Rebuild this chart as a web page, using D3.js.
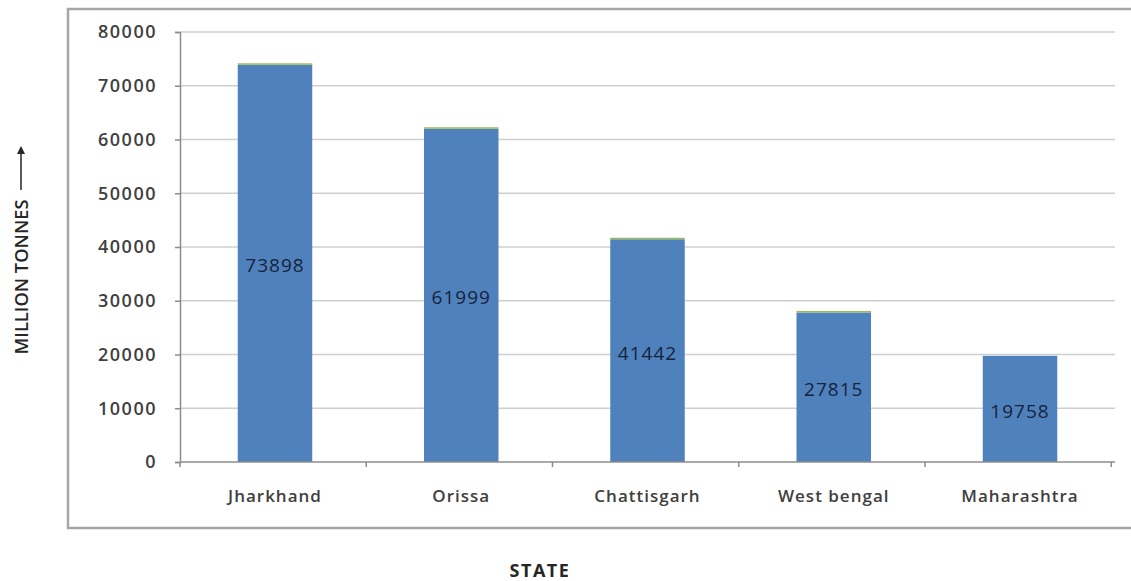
<!DOCTYPE html>
<html>
<head>
<meta charset="utf-8">
<script src="https://cdn.jsdelivr.net/npm/d3@7"></script>
<style>
  body { margin: 0; background: #fff; }
  svg text { font-family: "Open Sans", "Liberation Sans", sans-serif; }
</style>
</head>
<body>
<div id="chart"></div>
<script>
  // Chart data
  const states = ['Jharkhand', 'Orissa', 'Chattisgarh', 'West bengal', 'Maharashtra'];
  const reserves = [73898, 61999, 41442, 27815, 19758];
  const topSeries = [280, 280, 280, 280, 0];
  const yTicks = [0, 10000, 20000, 30000, 40000, 50000, 60000, 70000, 80000];

  const W = 1131, H = 581;
  const plot = { left: 180, right: 1115, top: 32, bottom: 462 };

  const svg = d3.select('#chart')
    .append('svg')
    .attr('width', W)
    .attr('height', H);

  // Outer frame
  svg.append('rect')
    .attr('x', 68).attr('y', 9)
    .attr('width', 1080).attr('height', 519)
    .attr('fill', 'none')
    .attr('stroke', '#a6a6a6')
    .attr('stroke-width', 2.5);

  const x = d3.scaleBand()
    .domain(states)
    .range([plot.left, plot.right])
    .paddingInner(0.6)
    .paddingOuter(0.31);

  const y = d3.scaleLinear()
    .domain([0, 80000])
    .range([plot.bottom, plot.top]);

  // Gridlines
  svg.append('g')
    .selectAll('line')
    .data(yTicks.filter(d => d > 0))
    .enter()
    .append('line')
    .attr('x1', plot.left).attr('x2', plot.right)
    .attr('y1', d => y(d)).attr('y2', d => y(d))
    .attr('stroke', '#cfcfcf')
    .attr('stroke-width', 1.5);

  // Bars
  svg.append('g')
    .selectAll('rect')
    .data(states)
    .enter()
    .append('rect')
    .attr('x', d => x(d))
    .attr('width', x.bandwidth())
    .attr('y', (d, i) => y(reserves[i]))
    .attr('height', (d, i) => y(0) - y(reserves[i]))
    .attr('fill', '#4f81bd');

  // Thin top series
  svg.append('g')
    .selectAll('rect')
    .data(states)
    .enter()
    .append('rect')
    .attr('x', d => x(d))
    .attr('width', x.bandwidth())
    .attr('y', (d, i) => y(reserves[i] + topSeries[i]))
    .attr('height', (d, i) => y(reserves[i]) - y(reserves[i] + topSeries[i]))
    .attr('fill', '#9bbb59');

  // Value labels
  svg.append('g')
    .selectAll('text')
    .data(states)
    .enter()
    .append('text')
    .attr('x', d => x(d) + x.bandwidth() / 2)
    .attr('y', (d, i) => y(reserves[i] / 2) + 9)
    .attr('text-anchor', 'middle')
    .style('font-size', '19px')
    .style('font-weight', '500')
    .style('letter-spacing', '1px')
    .style('fill', '#17233a')
    .text((d, i) => reserves[i]);

  // Y axis
  const yAxis = svg.append('g')
    .attr('transform', `translate(${plot.left},0)`)
    .call(d3.axisLeft(y).tickValues(yTicks).tickSize(5).tickPadding(18).tickFormat(d3.format('d')));
  yAxis.select('.domain').attr('stroke', '#8c8c8c').attr('stroke-width', 1.5);
  yAxis.selectAll('.tick line').attr('stroke', '#8c8c8c').attr('stroke-width', 1.5);
  yAxis.selectAll('text')
    .style('font-size', '18px')
    .style('font-weight', '600')
    .style('letter-spacing', '1.5px')
    .style('fill', '#404040');

  // X axis
  svg.append('line')
    .attr('x1', plot.left).attr('x2', plot.right)
    .attr('y1', plot.bottom).attr('y2', plot.bottom)
    .attr('stroke', '#8c8c8c').attr('stroke-width', 1.5);

  const step = x.step();
  svg.append('g')
    .selectAll('line')
    .data(d3.range(states.length + 1))
    .enter()
    .append('line')
    .attr('x1', i => plot.left + i * step).attr('x2', i => plot.left + i * step)
    .attr('y1', plot.bottom).attr('y2', plot.bottom + 5)
    .attr('stroke', '#8c8c8c').attr('stroke-width', 1.5);

  svg.append('g')
    .selectAll('text')
    .data(states)
    .enter()
    .append('text')
    .attr('x', d => x(d) + x.bandwidth() / 2)
    .attr('y', 502)
    .attr('text-anchor', 'middle')
    .style('font-size', '17px')
    .style('font-weight', '600')
    .style('letter-spacing', '1px')
    .style('fill', '#404040')
    .text(d => d);

  // Y axis title with arrow
  svg.append('text')
    .attr('transform', 'translate(28,277) rotate(-90)')
    .attr('text-anchor', 'middle')
    .attr('textLength', 155)
    .attr('lengthAdjust', 'spacingAndGlyphs')
    .style('font-size', '18px')
    .style('font-weight', '600')
    .style('fill', '#262626')
    .text('MILLION TONNES');

  svg.append('line')
    .attr('x1', 21).attr('x2', 21)
    .attr('y1', 190).attr('y2', 152)
    .attr('stroke', '#262626')
    .attr('stroke-width', 1.5);
  svg.append('path')
    .attr('d', 'M17,154 L21,146 L25,154 Z')
    .attr('fill', '#262626');

  svg.append('text')
    .attr('x', 540)
    .attr('y', 577)
    .attr('text-anchor', 'middle')
    .style('font-size', '18px')
    .style('font-weight', '700')
    .style('letter-spacing', '1.5px')
    .style('fill', '#262626')
    .text('STATE');
</script>
</body>
</html>
